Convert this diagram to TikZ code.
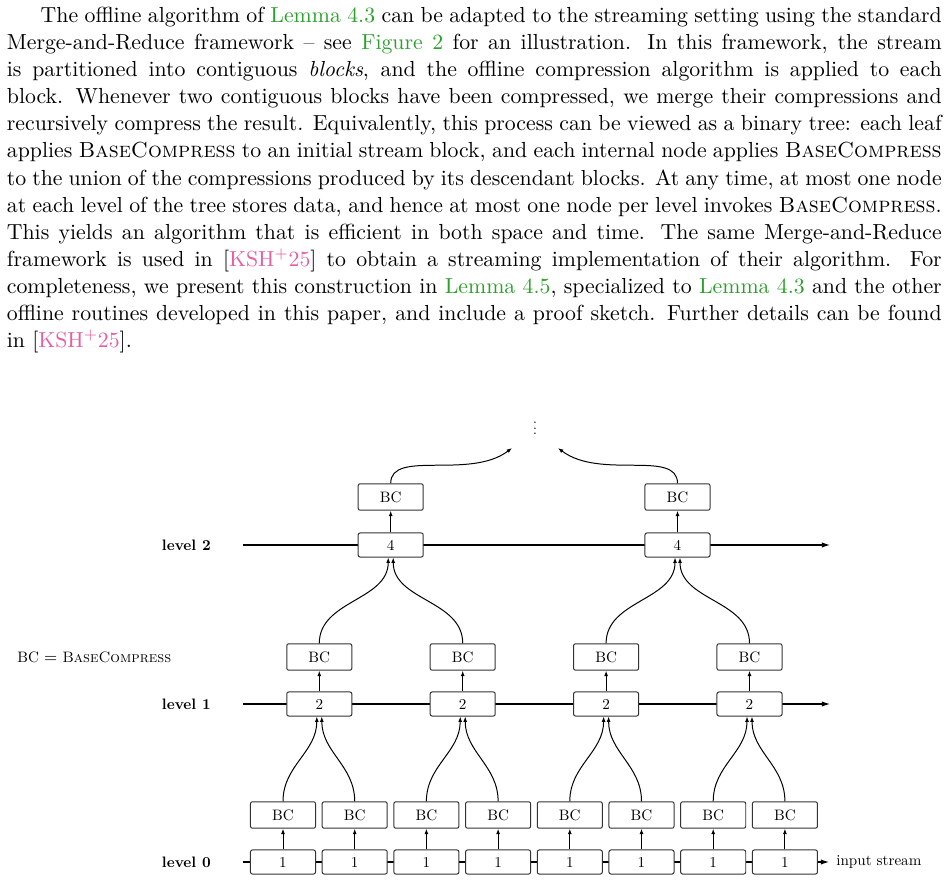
\documentclass[tikz,border=0pt]{standalone}
\usepackage{fontspec}
\usepackage{xcolor}
\usepackage{tikz}
\usetikzlibrary{positioning,arrows.meta}
\usepackage{amsmath}
% figure text: 10pt design of Latin Modern, set small
\newfontfamily\figfont{lmroman10-regular}[Extension=.otf, BoldFont=lmroman10-bold, SmallCapsFont=lmromancaps10-regular]
\newcommand{\figsize}{\figfont\fontsize{7.6}{9}\selectfont}
\definecolor{linkgreen}{RGB}{44,160,44}
\definecolor{citepink}{RGB}{228,96,164}
\definecolor{boxline}{HTML}{333333}
\tikzset{
  cnt/.style={rectangle, draw=boxline, fill=white, rounded corners=1pt,
              minimum width=32.7pt, minimum height=12.1pt, inner sep=0pt, font=\figsize, line width=0.5pt},
  bcbox/.style={cnt, minimum height=13.3pt},
  lvltext/.style={font=\figsize\bfseries, inner sep=0pt},
  note/.style={font=\figsize, inner sep=0pt},
  uparr/.style={-{Latex[length=2.7pt,width=2pt]}, line width=0.5pt},
  lvlarr/.style={-{Latex[length=4.1pt,width=2.7pt]}, line width=0.55pt},
}
\newcommand{\lemref}[1]{\textcolor{linkgreen}{#1}}
\newcommand{\kshcite}{[\textcolor{citepink}{KSH$^+$25}]}
\newcommand{\BCname}{\textsc{BaseCompress}}

\begin{document}
\begin{tikzpicture}[x=0.5025pt, y=0.5025pt]
  \useasboundingbox (0,0) rectangle (948,882);

  % text above the figure
  \node[anchor=north west, inner sep=0pt, text width=469.75pt, align=justify,
        font=\fontsize{10.95}{13.6}\selectfont] (para) at (6.5,875.1) {%
    \hspace*{17pt}The offline algorithm of \lemref{Lemma 4.3} can be adapted to the streaming setting using the standard
    Merge-and-Reduce framework -- see \lemref{Figure 2} for an illustration. In this framework, the stream
    is partitioned into contiguous \emph{blocks}, and the offline compression algorithm is applied to each
    block. Whenever two contiguous blocks have been compressed, we merge their compressions and
    recursively compress the result. Equivalently, this process can be viewed as a binary tree: each leaf
    applies \BCname{} to an initial stream block, and each internal node applies \BCname{}
    to the union of the compressions produced by its descendant blocks. At any time, at most one node
    at each level of the tree stores data, and hence at most one node per level invokes \BCname.
    This yields an algorithm that is efficient in both space and time. The same Merge-and-Reduce
    framework is used in \kshcite{} to obtain a streaming implementation of their algorithm. For
    completeness, we present this construction in \lemref{Lemma 4.5}, specialized to \lemref{Lemma 4.3} and the other
    offline routines developed in this paper, and include a proof sketch. Further details can be found
    in \kshcite.};

  % level lines
  \coordinate (s2) at (243,337); \coordinate (e2) at (830,337);
  \coordinate (s1) at (243,178); \coordinate (e1) at (830,178);
  \coordinate (s0) at (243,20);  \coordinate (e0) at (829,20);
  \draw[lvlarr] (s2) -- (e2);
  \draw[lvlarr] (s1) -- (e1);
  \draw[lvlarr] (s0) -- (e0);
  \node[lvltext, left=16pt of s2] (lv2) {level 2};
  \node[lvltext, left=16pt of s1] (lv1) {level 1};
  \node[lvltext, left=16pt of s0] (lv0) {level 0};
  \node[note, right=3.5pt of e0] (inp) {input stream};
  \node[note, anchor=west] (legend) at (17,225) {BC $=$ \BCname};

  % level 0: stream blocks
  \foreach \i in {0,...,7} {
    \node[cnt] (one-\i) at ({283+71.7*\i},20) {1};
    \node[bcbox] (bc0-\i) at ({283+71.7*\i},67) {BC};
    \draw[uparr] (one-\i) -- (bc0-\i);
  }

  % level 1
  \foreach \j in {0,...,3} {
    \pgfmathtruncatemacro{\a}{2*\j}
    \pgfmathtruncatemacro{\b}{2*\j+1}
    \node[cnt] (two-\j) at ({319.3+143.4*\j},178) {2};
    \node[bcbox] (bc1-\j) at ({319.3+143.4*\j},225) {BC};
    \draw[uparr] (two-\j) -- (bc1-\j);
    \draw[uparr] (bc0-\a.north) to[out=90,in=-90] ([xshift=-1.25pt]two-\j.south);
    \draw[uparr] (bc0-\b.north) to[out=90,in=-90] ([xshift=1.25pt]two-\j.south);
  }

  % level 2
  \foreach \k in {0,1} {
    \pgfmathtruncatemacro{\a}{2*\k}
    \pgfmathtruncatemacro{\b}{2*\k+1}
    \node[cnt] (four-\k) at ({390.7+286.8*\k},337) {4};
    \node[bcbox] (bc2-\k) at ({390.7+286.8*\k},385) {BC};
    \draw[uparr] (four-\k) -- (bc2-\k);
    \draw[uparr] (bc1-\a.north) to[out=90,in=-90] ([xshift=-1.25pt]four-\k.south);
    \draw[uparr] (bc1-\b.north) to[out=90,in=-90] ([xshift=1.25pt]four-\k.south);
  }

  % towards the next levels
  \coordinate (tipL) at (512,434);
  \coordinate (tipR) at (558,434);
  \node[scale=0.7, inner sep=0pt, anchor=south] (dots) at (535,447) {$\vdots$};
  \draw[uparr] (bc2-0.north) .. controls +(0,34) and +(-42,-32) .. (tipL);
  \draw[uparr] (bc2-1.north) .. controls +(0,34) and +(42,-32) .. (tipR);
\end{tikzpicture}
\end{document}
